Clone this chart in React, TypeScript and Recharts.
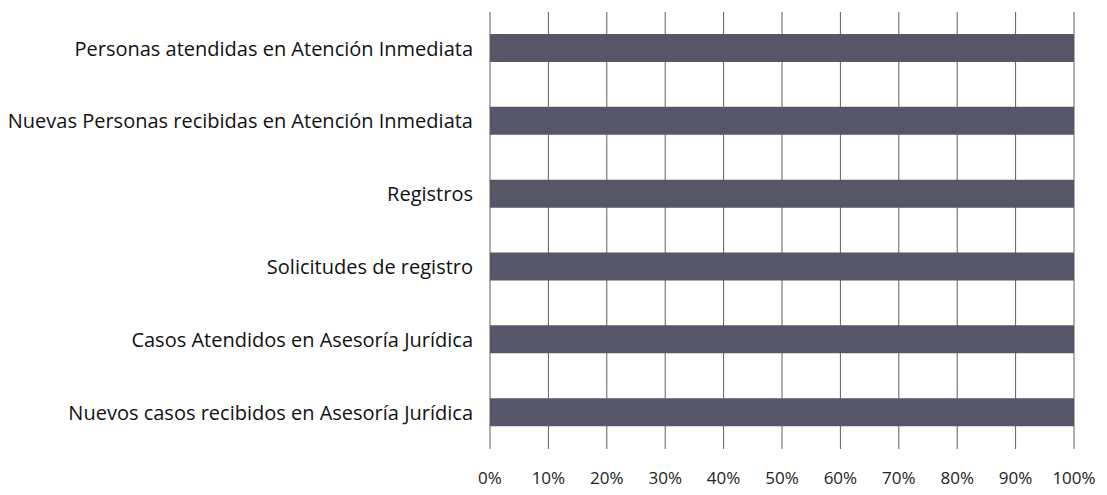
import { BarChart, Bar, XAxis, YAxis, CartesianGrid } from 'recharts';

const categories = [
  'Personas atendidas en Atención Inmediata',
  'Nuevas Personas recibidas en Atención Inmediata',
  'Registros',
  'Solicitudes de registro',
  'Casos Atendidos en Asesoría Jurídica',
  'Nuevos casos recibidos en Asesoría Jurídica',
];
const percentages = [100, 100, 100, 100, 100, 100];
const xTicks = [0, 10, 20, 30, 40, 50, 60, 70, 80, 90, 100];

const data = categories.map((name, i) => ({ name, value: percentages[i] }));

export default function App() {
  return (
    <div style={{ position: 'absolute', left: 0, top: 0, background: '#fff' }}>
      <BarChart
        width={1107}
        height={495}
        data={data}
        layout="vertical"
        margin={{ top: 12, right: 33, left: 0, bottom: 0 }}
        barCategoryGap={0}
      >
        <CartesianGrid horizontal={false} stroke="#5e5e5e" strokeWidth={1} />
        <XAxis
          type="number"
          domain={[0, 100]}
          ticks={xTicks}
          tickFormatter={(v) => `${v}%`}
          axisLine={false}
          tickLine={false}
          tickSize={0}
          tickMargin={23}
          height={46}
          tick={{ fontSize: 17, fill: '#222', fontFamily: 'Open Sans' }}
          interval={0}
        />
        <YAxis
          type="category"
          dataKey="name"
          width={490}
          axisLine={false}
          tickLine={false}
          tickSize={0}
          tickMargin={17}
          tick={{ fontSize: 20, fill: '#111', fontFamily: 'Open Sans' }}
          interval={0}
        />
        <Bar dataKey="value" fill="#575668" barSize={28} isAnimationActive={false} />
      </BarChart>
    </div>
  );
}
